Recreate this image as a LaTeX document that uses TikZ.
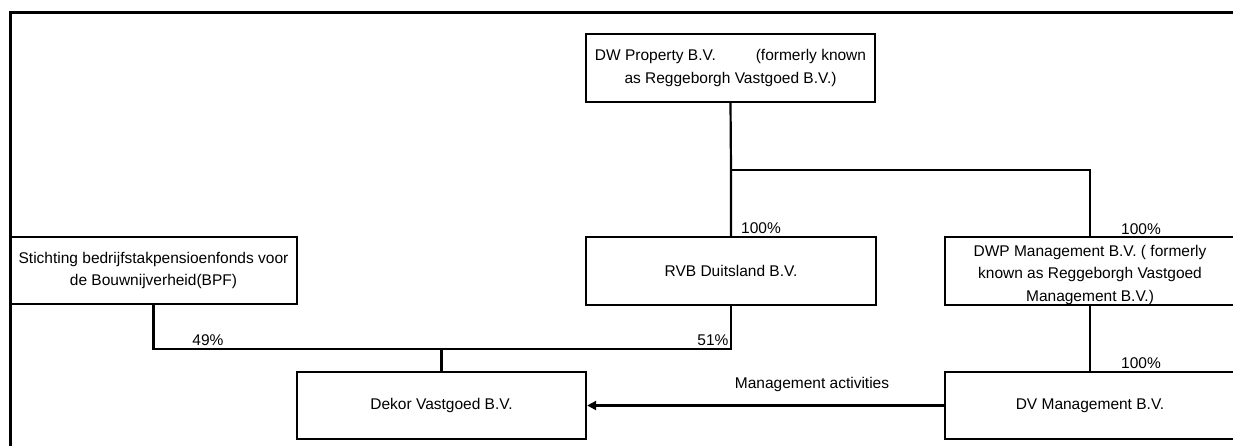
\documentclass[tikz,border=0pt]{standalone}
\usepackage{fontspec}
\setmainfont{Liberation Sans}
\usetikzlibrary{arrows.meta}
\begin{document}
\begin{tikzpicture}[x=1pt,y=-1pt,
  box/.style={draw,line width=2.3pt,rectangle,inner sep=0pt,align=center,
    font=\fontsize{15.5}{22.5}\selectfont},
  lbl/.style={inner sep=0pt,font=\fontsize{15.5}{18}\selectfont},
  conn/.style={line width=2.2pt},
  frame/.style={line width=3pt}]
\clip (0,0) rectangle (1233,445);
\fill[white] (0,0) rectangle (1233,445);
% frame
\coordinate (fbl) at (10,446);
\coordinate (ftl) at (10,12);
\coordinate (ftr) at (1234,12);
\draw[frame] (fbl) -- (ftl) -- (ftr);
% boxes
\node[box,minimum width=289pt,minimum height=68pt] (dw) at (730.5,68)
  {DW Property B.V.\hspace{40pt}(formerly known\\as Reggeborgh Vastgoed B.V.)};
\node[box,minimum width=287pt,minimum height=67pt] (bpf) at (153.5,270.5)
  {Stichting bedrijfstakpensioenfonds voor\\de Bouwnijverheid(BPF)};
\node[box,minimum width=290pt,minimum height=68pt] (rvb) at (731,271)
  {RVB Duitsland B.V.};
\node[box,minimum width=290pt,minimum height=68pt] (dwp) at (1090,271)
  {\rule{0pt}{19pt}DWP Management B.V. ( formerly\\known as Reggeborgh Vastgoed\\Management B.V.)};
\node[box,minimum width=289pt,minimum height=67pt] (dekor) at (441.5,405.5)
  {Dekor Vastgoed B.V.};
\node[box,minimum width=290pt,minimum height=67pt] (dv) at (1090,405.5)
  {DV Management B.V.};
% connectors
\coordinate (j1) at (731,170);
\coordinate (j2) at (731,349);
\draw[conn] (dw.south) -- (j1) -- (rvb.north);
\draw[conn] (j1) -| (dwp.north);
\draw[conn] (bpf.south) |- (j2) -- (rvb.south);
\draw[conn] (dekor.north) -- (dekor.north |- j2);
\draw[conn] (dwp.south) -- (dv.north);
\draw[line width=3.5pt,-{Triangle[length=9pt,width=9pt]}] (dv.west) -- (dekor.east);
% labels
\node[lbl] (p1) at (761,228) {100\%};
\node[lbl] (p2) at (1141,229) {100\%};
\node[lbl] (p3) at (1141,363) {100\%};
\node[lbl] (p4) at (713,340) {51\%};
\node[lbl] (p5) at (208,340) {49\%};
\node[lbl] (ma) at (812,384) {Management activities};
\end{tikzpicture}
\end{document}
